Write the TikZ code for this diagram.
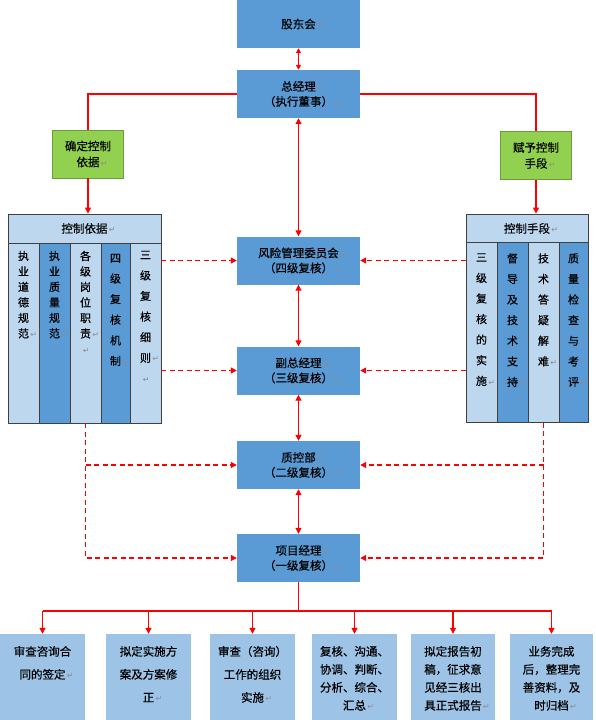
\documentclass[tikz,border=0pt]{standalone}
\usepackage{fontspec}
\setmainfont{Noto Sans CJK SC}[FakeBold=0.4]
\newfontfamily\symfont{DejaVu Sans}
\usepackage{tikz}
\usetikzlibrary{arrows.meta}

\definecolor{boxblue}{HTML}{5B9BD5}
\definecolor{paleblue}{HTML}{BDD7EE}
\definecolor{softblue}{HTML}{9DC3E6}
\definecolor{leafgreen}{HTML}{92D050}
\definecolor{linered}{HTML}{FF0000}
\newcommand{\pmk}{{\symfont\fontsize{8}{8}\selectfont\color{gray!90}\,↵}}

\tikzset{
  mbox/.style={fill=boxblue, minimum width=123pt, minimum height=48pt, inner sep=0pt, align=center, font=\fontsize{11.5}{15}\selectfont},
  gbox/.style={fill=leafgreen, draw=leafgreen!75!black, line width=0.6pt, minimum width=71pt, minimum height=48pt, inner sep=0pt, align=center, font=\fontsize{11.5}{16}\selectfont},
  hbox/.style={fill=paleblue, draw=black!75, line width=0.8pt, minimum height=29pt, inner sep=0pt, font=\fontsize{11.5}{15}\selectfont},
  colbox/.style={draw=black!75, line width=0.8pt, inner sep=0pt, minimum height=180pt},
  vtext/.style={anchor=north, align=center, inner sep=0pt, font=\fontsize{11}{15.5}\selectfont},
  vwide/.style={vtext, font=\fontsize{11}{20.6}\selectfont},
  bbox/.style={fill=softblue, minimum width=85pt, minimum height=86pt, inner sep=0pt},
  btext/.style={anchor=north, align=center, inner sep=0pt, font=\fontsize{11.5}{23}\selectfont},
  bnarrow/.style={btext, font=\fontsize{11.5}{18}\selectfont},
  redline/.style={draw=linered, line width=1.2pt},
  link/.style={redline, -{Triangle[length=6pt,width=6pt]}},
  twoway/.style={redline, {Triangle[length=6pt,width=6pt]}-{Triangle[length=6pt,width=6pt]}},
  dlink/.style={redline, dash pattern=on 5pt off 3.5pt, -{Triangle[length=6pt,width=6pt]}}
}

\begin{document}
\begin{tikzpicture}[x=1pt, y=-1pt]
  \useasboundingbox (0,0) rectangle (595,720);

  % top
  \node[mbox] (gd) at (298.5,24) {股东会\rlap{\pmk}};
  \node[mbox] (zjl) at (298.5,94) {总经理\rlap{\pmk}\\（执行董事）\rlap{\pmk}};
  \node[gbox] (qd) at (88,154) {确定控制\\依据\rlap{\pmk}};
  \node[gbox] (fy) at (536,155.5) {赋予控制\\手段\rlap{\pmk}};

  % left panel
  \node[hbox, minimum width=153pt] (yjh) at (84.5,228.5) {控制依据\rlap{\pmk}};
  \node[colbox, fill=paleblue, minimum width=31pt] (lc1) at (23.5,333) {};
  \node[colbox, fill=boxblue, minimum width=31pt] (lc2) at (54.5,333) {};
  \node[colbox, fill=paleblue, minimum width=31pt] (lc3) at (85.5,333) {};
  \node[colbox, fill=boxblue, minimum width=29pt] (lc4) at (115.5,333) {};
  \node[colbox, fill=paleblue, minimum width=31pt] (lc5) at (145.5,333) {};
  \node[vtext] at ([yshift=-8pt]lc1.north) {执\\业\\道\\德\\规\\范\rlap{\pmk}};
  \node[vtext] at ([yshift=-8pt]lc2.north) {执\\业\\质\\量\\规\\范\rlap{\pmk}};
  \node[vtext] at ([yshift=-8pt]lc3.north) {各\\级\\岗\\位\\职\\责\rlap{\pmk}\\\pmk};
  \node[vwide] at ([yshift=-11pt]lc4.north) {四\\级\\复\\核\\机\\制\rlap{\pmk}};
  \node[vwide] at ([yshift=-8pt]lc5.north) {三\\级\\复\\核\\细\\则\rlap{\pmk}\\\pmk};

  % right panel
  \node[hbox, minimum width=122pt] (sdh) at (527,228.5) {控制手段\rlap{\pmk}};
  \node[colbox, fill=paleblue, minimum width=31pt] (rc1) at (481.5,332.5) {};
  \node[colbox, fill=boxblue, minimum width=31pt] (rc2) at (512.5,332.5) {};
  \node[colbox, fill=paleblue, minimum width=31pt] (rc3) at (543.5,332.5) {};
  \node[colbox, fill=boxblue, minimum width=29pt] (rc4) at (573.5,332.5) {};
  \node[vwide] at ([yshift=-11pt]rc1.north) {三\\级\\复\\核\\的\\实\\施\rlap{\pmk}};
  \node[vwide] at ([yshift=-11pt]rc2.north) {督\\导\\及\\技\\术\\支\\持\rlap{\pmk}};
  \node[vwide] at ([yshift=-11pt]rc3.north) {技\\术\\答\\疑\\解\\难\rlap{\pmk}};
  \node[vwide] at ([yshift=-11pt]rc4.north) {质\\量\\检\\查\\与\\考\\评\rlap{\pmk}};

  % review chain
  \node[mbox] (fx) at (298.5,260.5) {风险管理委员会\rlap{\pmk}\\（四级复核）\rlap{\pmk}};
  \node[mbox] (fz) at (298.5,370.5) {副总经理\rlap{\pmk}\\（三级复核）\rlap{\pmk}};
  \node[mbox] (zk) at (298.5,465) {质控部\rlap{\pmk}\\（二级复核）\rlap{\pmk}};
  \node[mbox] (xm) at (298.5,558) {项目经理\rlap{\pmk}\\（一级复核）\rlap{\pmk}};

  % work items
  \node[bbox] (b1) at (42.5,677) {};
  \node[bbox] (b2) at (148.5,677) {};
  \node[bbox] (b3) at (252.5,677) {};
  \node[bbox] (b4) at (354.5,677) {};
  \node[bbox, minimum width=84pt] (b5) at (453,677) {};
  \node[bbox, minimum width=83pt] (b6) at (551.5,677) {};
  \node[btext] at ([yshift=-12pt]b1.north) {审查咨询合\\同的签定\rlap{\pmk}};
  \node[btext] at ([yshift=-12pt]b2.north) {拟定实施方\\案及方案修\\正\rlap{\pmk}};
  \node[btext] at ([yshift=-12pt]b3.north) {审查（咨询）\\工作的组织\\实施\rlap{\pmk}};
  \node[bnarrow] at ([yshift=-12pt]b4.north) {复核、沟通、\\协调、判断、\\分析、综合、\\汇总\rlap{\pmk}};
  \node[bnarrow] at ([yshift=-12pt]b5.north) {拟定报告初\\稿，征求意\\见经三核出\\具正式报告\rlap{\pmk}};
  \node[bnarrow] at ([yshift=-12pt]b6.north) {业务完成\\后，整理完\\善资料，及\\时归档\rlap{\pmk}};

  % connectors
  \draw[twoway, {Triangle[length=5pt,width=5pt]}-{Triangle[length=5pt,width=5pt]}] (gd) -- (zjl);
  \draw[redline] (zjl.west) -| (qd.north);
  \draw[redline] (zjl.east) -| (fy.north);
  \draw[link] (qd.south) -- (qd.south |- yjh.north);
  \draw[link] (fy.south) -- (fy.south |- sdh.north);
  \draw[twoway] (zjl) -- (fx);
  \draw[twoway] (fx) -- (fz);
  \draw[twoway] (fz) -- (zk);
  \draw[twoway] (zk) -- (xm);

  \draw[dlink] (fx.west -| yjh.east) -- (fx.west);
  \draw[dlink] (fz.west -| yjh.east) -- (fz.west);
  \draw[dlink] (lc3.south) |- (xm.west);
  \draw[dlink] (lc3.south |- zk.west) -- (zk.west);
  \draw[dlink] (fx.east -| sdh.west) -- (fx.east);
  \draw[dlink] (fz.east -| sdh.west) -- (fz.east);
  \draw[dlink] (rc3.south) |- (xm.east);
  \draw[dlink] (rc3.south |- zk.east) -- (zk.east);

  \coordinate (bus) at (298.5,611);
  \draw[redline] (xm.south) -- (bus);
  \draw[redline] (b1.north |- bus) -- (b6.north |- bus);
  \foreach \b in {b1,b2,b3,b4,b5,b6}
    \draw[link] (\b.north |- bus) -- (\b.north);
\end{tikzpicture}
\end{document}
